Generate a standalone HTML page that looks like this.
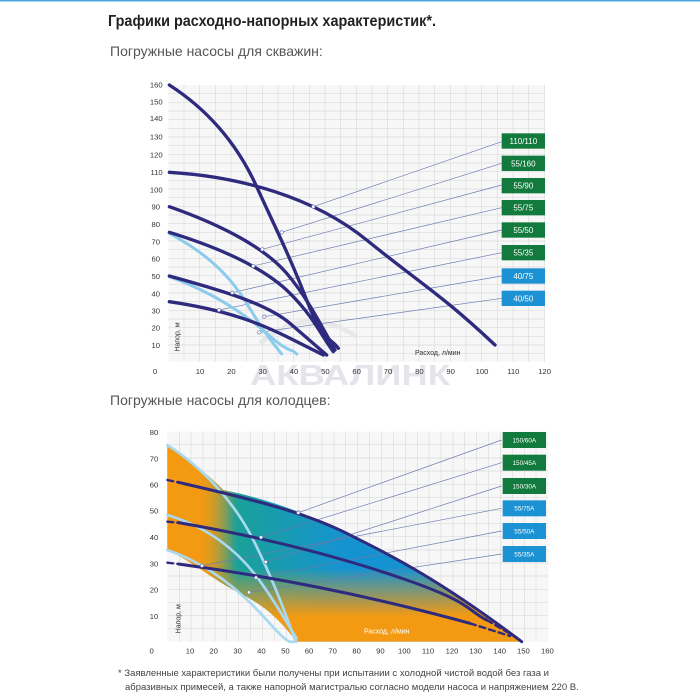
<!DOCTYPE html>
<html><head><meta charset="utf-8"><style>
html,body{margin:0;padding:0;background:#fff;}
svg{display:block;font-family:"Liberation Sans",sans-serif;}
</style></head><body>
<svg width="700" height="700" viewBox="0 0 700 700" xmlns="http://www.w3.org/2000/svg">
<rect x="0" y="0" width="700" height="700" fill="#fff"/>
<rect x="0" y="0" width="700" height="1.5" fill="#4aa8de"/>
<text x="108" y="26" font-size="16" font-weight="bold" fill="#222" textLength="328" lengthAdjust="spacingAndGlyphs">Графики расходно-напорных характеристик*.</text>
<text x="110" y="56" font-size="14" fill="#555">Погружные насосы для скважин:</text>
<text x="110" y="405" font-size="14" fill="#555">Погружные насосы для колодцев:</text>
<text x="118" y="676" font-size="9.5" fill="#444">* Заявленные характеристики были получены при испытании с холодной чистой водой без газа и</text>
<text x="125" y="690" font-size="9.5" fill="#444">абразивных примесей, а также напорной магистралью согласно модели насоса и напряжением  220 В.</text>

<!-- Chart 1 -->
<g transform="translate(140,70) scale(0.33333)">
<rect x="85" y="45" width="1130" height="830" fill="#f7f7f7"/>
<g stroke="#dcdcdc" stroke-width="2">
<path d="M132 45V875M179 45V875M226 45V875M273 45V875M320 45V875M367 45V875M414 45V875M461 45V875M508 45V875M555 45V875M602 45V875M649 45V875M696 45V875M743 45V875M790 45V875M837 45V875M884 45V875M931 45V875M978 45V875M1025 45V875M1072 45V875M1119 45V875M1166 45V875M1213 45V875"/>
<path d="M85 71H1215M85 97H1215M85 123H1215M85 149H1215M85 175H1215M85 201H1215M85 227H1215M85 253H1215M85 279H1215M85 305H1215M85 331H1215M85 357H1215M85 383H1215M85 409H1215M85 435H1215M85 461H1215M85 487H1215M85 513H1215M85 539H1215M85 565H1215M85 591H1215M85 617H1215M85 643H1215M85 669H1215M85 695H1215M85 721H1215M85 747H1215M85 773H1215M85 799H1215M85 825H1215M85 851H1215"/>
</g>
<text x="330" y="945" font-size="85" font-weight="bold" fill="#e3e5ea" textLength="600" lengthAdjust="spacingAndGlyphs">АКВАЛИНК</text>
<path d="M360 820 Q500 700 650 800" stroke="#e8e8e8" stroke-width="14" fill="none"/>
<g font-size="23" fill="#333" text-anchor="end">
<text x="68" y="53">160</text><text x="68" y="104">150</text><text x="68" y="153">140</text><text x="68" y="208">130</text><text x="68" y="262">120</text><text x="68" y="315">110</text><text x="68" y="368">100</text><text x="60" y="419">90</text><text x="60" y="471">80</text><text x="60" y="523">70</text><text x="60" y="575">60</text><text x="60" y="627">50</text><text x="60" y="679">40</text><text x="60" y="731">30</text><text x="60" y="782">20</text><text x="60" y="834">10</text>
</g>
<g font-size="23" fill="#333" text-anchor="middle">
<text x="45" y="912">0</text><text x="180" y="912">10</text><text x="274" y="912">20</text><text x="368" y="912">30</text><text x="462" y="912">40</text><text x="556" y="912">50</text><text x="650" y="912">60</text><text x="744" y="912">70</text><text x="838" y="912">80</text><text x="932" y="912">90</text><text x="1026" y="912">100</text><text x="1120" y="912">110</text><text x="1214" y="912">120</text>
</g>
<text x="118" y="845" font-size="21" fill="#333" transform="rotate(-90 118 845)">Напор, м</text>
<text x="825" y="855" font-size="21" fill="#333">Расход, л/мин</text>
<g stroke="#6b7bb0" stroke-width="2" fill="none">
<path d="M520 410L1085 215M425 487L1085 280M367 538L1085 345M340 588L1085 413M277 668L1085 480M237 720L1085 548M373 740L1085 618M358 787L1085 685"/>
</g>
<g fill="none" stroke-linecap="round" stroke-linejoin="round">
<g stroke="#8ccbec" stroke-width="9">
<path d="M88 490C180 540 260 600 320 700S400 820 425 852"/>
<path d="M88 620C200 660 300 720 380 790S450 830 470 852"/>
</g>
<g stroke="#2e2a7e" stroke-width="10">
<path d="M88 45C220 130 300 240 350 350S450 560 500 690S570 800 595 835"/>
<path d="M88 307C300 320 520 380 680 510S900 670 1065 825"/>
<path d="M88 410C260 470 380 540 440 610S540 760 585 840"/>
<path d="M88 487C260 540 380 600 450 670S540 790 580 845"/>
<path d="M88 618C240 660 380 700 450 760S530 830 560 855"/>
<path d="M88 695C260 720 360 760 440 800S520 840 550 855"/>
</g>
</g>
<g fill="#fff" stroke="#6b7bb0" stroke-width="2">
<circle cx="520" cy="410" r="5"/><circle cx="425" cy="487" r="5"/><circle cx="367" cy="538" r="5"/><circle cx="340" cy="588" r="5"/><circle cx="277" cy="668" r="5"/><circle cx="237" cy="720" r="5"/><circle cx="373" cy="740" r="5"/><circle cx="358" cy="787" r="5"/>
</g>
<g>
<rect x="1085" y="190" width="130" height="46" fill="#127a3d"/><rect x="1085" y="257" width="130" height="46" fill="#127a3d"/><rect x="1085" y="324" width="130" height="46" fill="#127a3d"/><rect x="1085" y="390" width="130" height="46" fill="#127a3d"/><rect x="1085" y="457" width="130" height="46" fill="#127a3d"/><rect x="1085" y="525" width="130" height="46" fill="#127a3d"/><rect x="1085" y="595" width="130" height="46" fill="#1b92d3"/><rect x="1085" y="662" width="130" height="46" fill="#1b92d3"/>
</g>
<g font-size="24" fill="#fff" text-anchor="middle">
<text x="1150" y="222">110/110</text><text x="1150" y="289">55/160</text><text x="1150" y="356">55/90</text><text x="1150" y="422">55/75</text><text x="1150" y="489">55/50</text><text x="1150" y="557">55/35</text><text x="1150" y="627">40/75</text><text x="1150" y="694">40/50</text>
</g>
</g>

<!-- Chart 2 -->
<g transform="translate(140,420) scale(0.33333)">
<defs>
<linearGradient id="gh" x1="82" y1="0" x2="1145" y2="0" gradientUnits="userSpaceOnUse">
<stop offset="0" stop-color="#f39a12"/><stop offset="0.09" stop-color="#f39a12"/><stop offset="0.2" stop-color="#1aa09a"/><stop offset="0.5" stop-color="#1593d1"/><stop offset="0.75" stop-color="#1593d1"/><stop offset="1" stop-color="#5a9a6a"/>
</linearGradient>
<linearGradient id="gv" x1="0" y1="35" x2="0" y2="665" gradientUnits="userSpaceOnUse">
<stop offset="0" stop-color="#f39a12" stop-opacity="0"/><stop offset="0.65" stop-color="#f39a12" stop-opacity="0"/><stop offset="0.88" stop-color="#f39a12" stop-opacity="1"/><stop offset="1" stop-color="#f39a12" stop-opacity="1"/>
</linearGradient>
<linearGradient id="gl" x1="82" y1="0" x2="280" y2="0" gradientUnits="userSpaceOnUse">
<stop offset="0" stop-color="#f39a12" stop-opacity="1"/><stop offset="0.4" stop-color="#f39a12" stop-opacity="1"/><stop offset="1" stop-color="#f39a12" stop-opacity="0"/>
</linearGradient>
</defs>
<rect x="82" y="35" width="1143" height="630" fill="#f7f7f7"/>
<g stroke="#dcdcdc" stroke-width="2">
<path d="M118 35V665M153 35V665M189 35V665M225 35V665M260 35V665M296 35V665M332 35V665M367 35V665M403 35V665M439 35V665M475 35V665M510 35V665M546 35V665M582 35V665M617 35V665M653 35V665M689 35V665M724 35V665M760 35V665M796 35V665M832 35V665M867 35V665M903 35V665M939 35V665M974 35V665M1010 35V665M1046 35V665M1081 35V665M1117 35V665M1153 35V665M1188 35V665"/>
<path d="M82 74H1225M82 114H1225M82 153H1225M82 193H1225M82 232H1225M82 271H1225M82 311H1225M82 350H1225M82 390H1225M82 429H1225M82 468H1225M82 508H1225M82 547H1225M82 587H1225M82 626H1225"/>
</g>
<path d="M82 75C180 140 230 190 250 210C400 240 520 290 620 340S900 480 1145 665L470 665C420 600 380 560 300 520S150 420 82 390Z" fill="url(#gh)"/>
<path d="M82 75C180 140 230 190 250 210C400 240 520 290 620 340S900 480 1145 665L470 665C420 600 380 560 300 520S150 420 82 390Z" fill="url(#gv)"/>
<path d="M82 75C180 140 230 190 250 210C400 240 520 290 620 340S900 480 1145 665L470 665C420 600 380 560 300 520S150 420 82 390Z" fill="url(#gl)"/>
<g font-size="23" fill="#333" text-anchor="end">
<text x="55" y="45">80</text><text x="55" y="124">70</text><text x="55" y="202">60</text><text x="55" y="281">50</text><text x="55" y="360">40</text><text x="55" y="439">30</text><text x="55" y="518">20</text><text x="55" y="597">10</text>
</g>
<g font-size="23" fill="#333" text-anchor="middle">
<text x="35" y="700">0</text><text x="150" y="700">10</text><text x="221" y="700">20</text><text x="293" y="700">30</text><text x="364" y="700">40</text><text x="436" y="700">50</text><text x="507" y="700">60</text><text x="578" y="700">70</text><text x="650" y="700">80</text><text x="721" y="700">90</text><text x="793" y="700">100</text><text x="864" y="700">110</text><text x="936" y="700">120</text><text x="1007" y="700">130</text><text x="1079" y="700">140</text><text x="1150" y="700">150</text><text x="1222" y="700">160</text>
</g>
<text x="122" y="640" font-size="21" fill="#333" transform="rotate(-90 122 640)">Напор, м</text>
<text x="672" y="640" font-size="21" fill="#fff">Расход, л/мин</text>
<g stroke="#6b7bb0" stroke-width="2" fill="none">
<path d="M475 278L1085 60M363 352L1085 128M377 426L1085 198M186 437L1085 265M348 473L1085 333M327 517L1085 402"/>
</g>
<g fill="none" stroke-linecap="round" stroke-linejoin="round">
<g stroke="#a9d9f0" stroke-width="8">
<path d="M82 75C200 150 290 260 340 360S430 560 465 660"/>
<path d="M82 285C200 320 290 390 350 470S440 610 470 655"/>
<path d="M82 390C200 430 300 510 380 600S450 660 470 665"/>
</g>
<g stroke="#2e2a7e" stroke-width="9">
<path d="M115 187C300 230 480 270 620 340S900 480 1145 665"/>
<path d="M115 308C360 350 600 410 800 480S980 570 1040 600"/>
<path d="M115 432C400 470 700 530 990 610"/>
</g>
<g stroke="#2e2a7e" stroke-width="7" stroke-dasharray="18 12">
<path d="M82 180L115 187"/><path d="M82 305L115 308"/><path d="M82 428L115 432"/>
<path d="M1040 600L1125 650"/><path d="M990 610L1110 648"/>
</g>
</g>
<g fill="#fff" stroke="#6b7bb0" stroke-width="2">
<circle cx="475" cy="278" r="5"/><circle cx="363" cy="352" r="5"/><circle cx="377" cy="426" r="5"/><circle cx="186" cy="437" r="5"/><circle cx="348" cy="473" r="5"/><circle cx="327" cy="517" r="5"/>
</g>
<g>
<rect x="1088" y="36" width="130" height="48" fill="#127a3d"/><rect x="1088" y="104" width="130" height="48" fill="#127a3d"/><rect x="1088" y="174" width="130" height="48" fill="#127a3d"/><rect x="1088" y="241" width="130" height="48" fill="#1b92d3"/><rect x="1088" y="309" width="130" height="48" fill="#1b92d3"/><rect x="1088" y="378" width="130" height="48" fill="#1b92d3"/>
</g>
<g font-size="19" fill="#fff" text-anchor="middle">
<text x="1153" y="67">150/60A</text><text x="1153" y="135">150/45A</text><text x="1153" y="205">150/30A</text><text x="1153" y="272">55/75A</text><text x="1153" y="340">55/50A</text><text x="1153" y="409">55/35A</text>
</g>
</g>
</svg>
</body></html>
